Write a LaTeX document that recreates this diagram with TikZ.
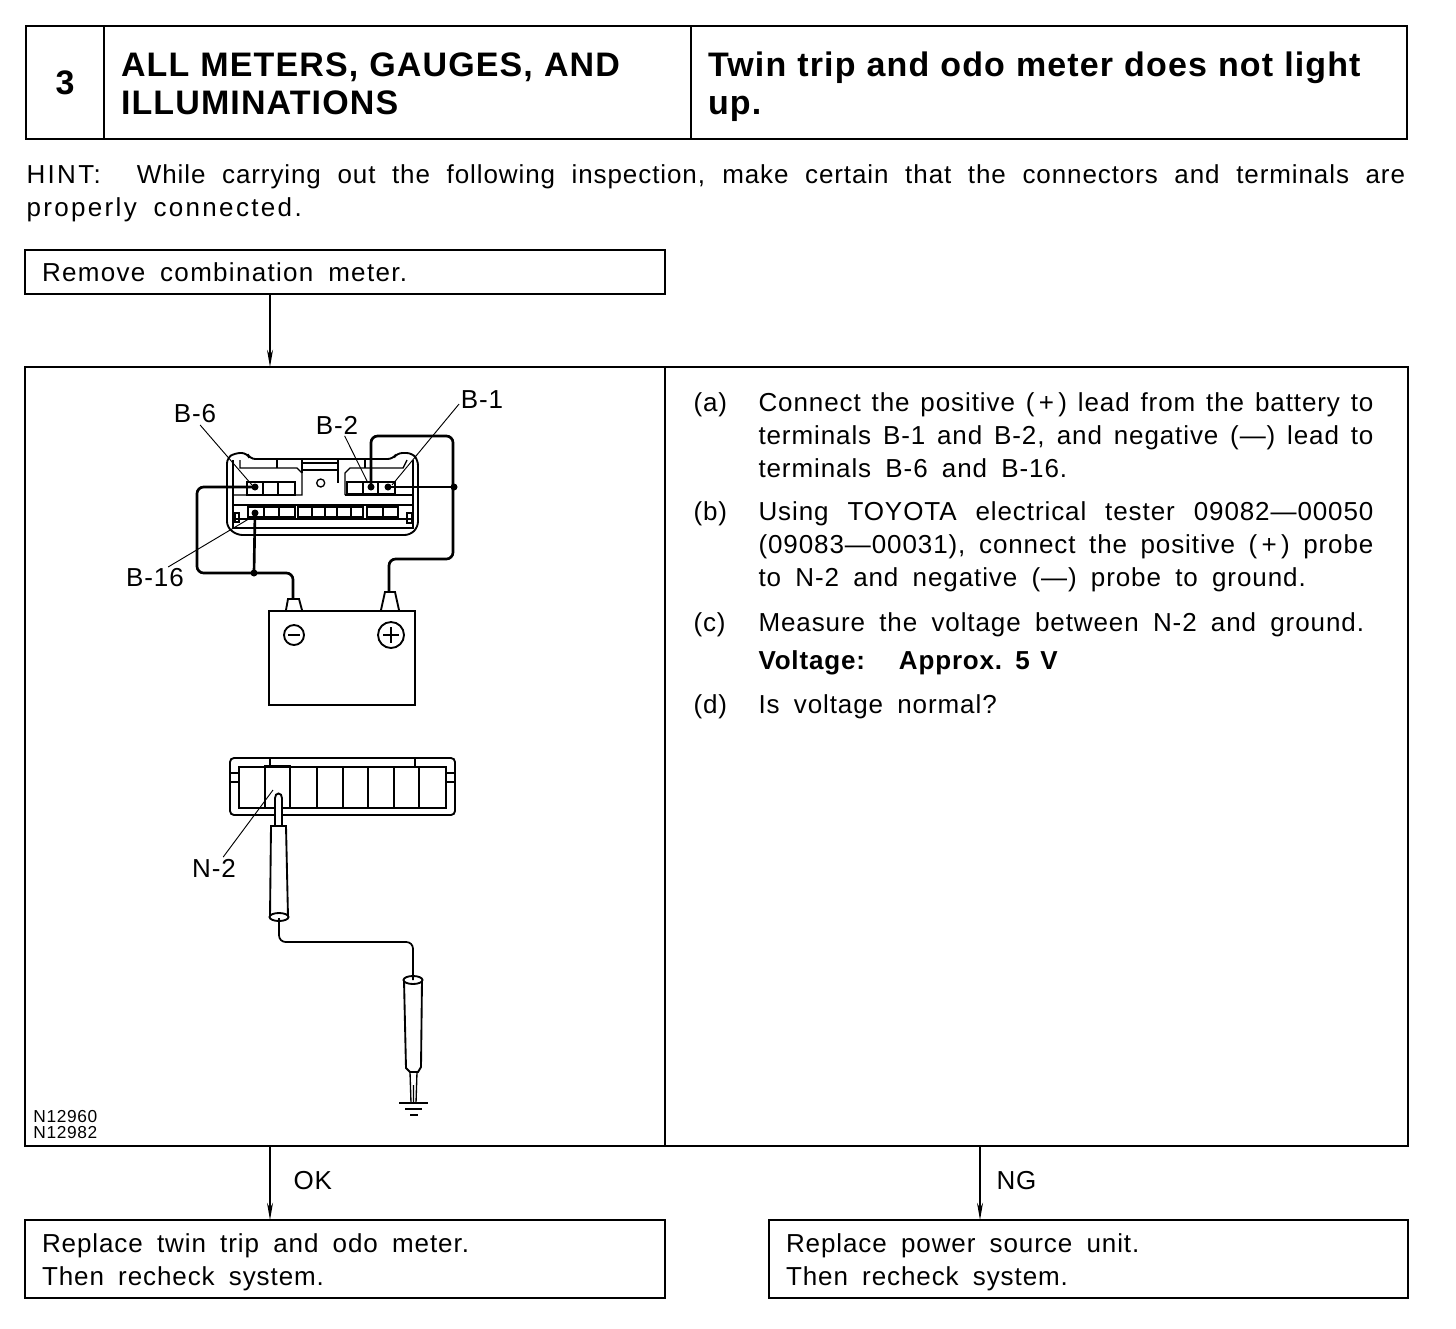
\documentclass[tikz,border=0pt]{standalone}
\usepackage{fontspec}
\setmainfont[LetterSpace=3.5,WordSpace=1.75]{Liberation Sans}
\newfontfamily\titlefont[LetterSpace=3.3,WordSpace=1.05]{Liberation Sans Bold}
\newfontfamily\boldfont[LetterSpace=3.2,WordSpace=1.3]{Liberation Sans Bold}
\newcommand{\firstline}[1]{\rule{0pt}{#1}}
\usetikzlibrary{arrows.meta}

\tikzset{every picture/.style={line width=0.75pt}}
\tikzset{
  flowbox/.style={draw,line width=1.5pt,rectangle,anchor=north west,outer sep=0pt,inner xsep=12.75pt,inner ysep=0pt,align=flush left},
  headbox/.style={flowbox,minimum height=84.75pt,font=\fontsize{25.5}{28.5}\titlefont},
  flowarrow/.style={line width=0.9pt,-{Stealth[length=13pt,width=4.5pt]}},
  bodytext/.style={anchor=north west,inner sep=0pt,font=\fontsize{19.5}{24.75}\selectfont},
  boxtext/.style={flowbox,font=\fontsize{19.5}{24.75}\selectfont},
  listtext/.style={bodytext,text width=461.25pt,align=justify},
  pointlabel/.style={inner sep=1pt,font=\fontsize{19.5}{24.75}\selectfont},
  part/.style={line width=1.4pt},
  thinpart/.style={line width=1pt},
  wire/.style={line width=2pt,rounded corners=5pt},
  leader/.style={line width=0.7pt},
  pindot/.style={fill=black,draw=none}
}

\begin{document}
\begin{tikzpicture}[x=0.75pt,y=0.75pt,yscale=-1,xscale=1]
\useasboundingbox (0,0) rectangle (1456,1328);

% Header
\draw (26,26) node (numcell) [headbox,minimum width=58.5pt,align=center,inner xsep=0pt] {3};
\draw (104,26) node (titlecell) [headbox,text width=414.75pt] {\firstline{27.5pt}ALL METERS, GAUGES, AND\\\strut ILLUMINATIONS};
\draw (691,26) node (faultcell) [headbox,text width=511.5pt] {\firstline{27.5pt}Twin trip and odo meter does not light\\\strut up.};

% Text Node
\draw (26,164) node (hinttext) [bodytext,text width=1034pt,align=justify] {{\addfontfeature{LetterSpace=9}HINT:}\hspace{27pt}While carrying out the following inspection, make certain that the connectors and terminals are\linebreak {\addfontfeature{LetterSpace=9}properly connected.}};

% Boxes
\draw (25,250) node (startbox) [boxtext,text width=454.5pt,minimum height=33pt] {\addfontfeature{LetterSpace=5}Remove combination meter.};
\draw (25,367) node (leftpanel) [flowbox,minimum width=480pt,minimum height=584.25pt] {};
\draw (665,367) node (rightpanel) [flowbox,minimum width=557.25pt,minimum height=584.25pt] {};
\draw (25,1220) node (okbox) [boxtext,text width=454.5pt,minimum height=58.5pt] {\firstline{18.7pt}Replace twin trip and odo meter.\\Then recheck system.};
\draw (769,1220) node (ngbox) [boxtext,text width=453.75pt,minimum height=58.5pt] {\firstline{18.7pt}Replace power source unit.\\Then recheck system.};

% Connection
\coordinate (flowleft) at (270,0);
\coordinate (flowright) at (980,0);
\draw [flowarrow] (startbox.south -| flowleft) -- (leftpanel.north -| flowleft);
\draw [flowarrow] (leftpanel.south -| flowleft) -- (okbox.north -| flowleft);
\draw [flowarrow] (rightpanel.south -| flowright) -- (ngbox.north -| flowright);
\draw (293,1171) node (oklabel) [bodytext] {OK};
\draw (996,1171) node (nglabel) [bodytext] {NG};

% Inspection steps
\draw (693,392) node (itema) [bodytext] {(a)};
\draw (758,392) node (stepa) [listtext] {Connect the positive (\,+\,) lead from the battery to\linebreak terminals B-1 and B-2, and negative (—) lead to\linebreak terminals B-6 and B-16.};
\draw (693,501) node (itemb) [bodytext] {(b)};
\draw (758,501) node (stepb) [listtext] {Using TOYOTA electrical tester 09082—00050\linebreak (09083—00031), connect the positive (\,+\,) probe\linebreak to N-2 and negative (—) probe to ground.};
\draw (693,612) node (itemc) [bodytext] {(c)};
\draw (758,612) node (stepc) [bodytext] {Measure the voltage between N-2 and ground.};
\draw (758,650) node (voltage) [bodytext,font=\fontsize{19.5}{24.75}\boldfont] {Voltage:\hspace{25.5pt}Approx. 5 V};
\draw (693,694) node (itemd) [bodytext] {(d)};
\draw (758,694) node (stepd) [bodytext] {Is voltage normal?};
\draw (33,1110) node (partno) [anchor=north west,inner sep=0pt,align=left,font=\fontsize{13}{12}\selectfont] {N12960\\N12982};

%Shape: meter connector body
\draw [part,rounded corners=4pt] (227,458) -- (227,527) -- (237,535) -- (410,535) -- (418,527) -- (418,460) -- (412,453) -- (397,453) -- (393,459) -- (338,459) -- (302,459) -- (250,459) -- (247,453) -- (235,453) -- cycle;
\draw [thinpart] (233,460) -- (233,528) -- (413,528) -- (413,460);
\draw [thinpart] (240,460) -- (240,468) -- (297,468) -- (302,473) -- (302,495) -- (233,495);
\draw [thinpart] (345,495) -- (345,473) -- (350,468) -- (403,468) -- (407,460);
\draw [thinpart] (345,495) -- (413,495);
\draw [thinpart] (302,459) -- (302,473);
\draw [thinpart] (338,459) -- (338,483);
\draw [thinpart] (302,463) -- (338,463);
\draw [thinpart] (302,470) -- (338,470);
\draw [thinpart] (277,459) -- (277,468);
\draw [thinpart] (365,459) -- (365,468);
\draw [thinpart] (233,505) -- (413,505);
\draw [thinpart] (233,519) -- (413,519);
\draw [thinpart] (235,513) rectangle (239,522);
\draw [thinpart] (407,513) rectangle (412,523);
\draw [thinpart] (320.7,483) circle [radius=4];
%Upper terminal rows
\draw [thinpart] (247,482) rectangle (295,495);
\draw [thinpart] (347,482) rectangle (395,494);
\foreach \cellx in {263,278} \draw [thinpart] (\cellx,482) -- (\cellx,495);
\foreach \cellx in {363,378} \draw [thinpart] (\cellx,482) -- (\cellx,494);
\draw [part] (247,482) rectangle (263,495);
%Lower terminal row
\draw [thinpart] (248,507) rectangle (295,517);
\draw [thinpart] (298,507) rectangle (363,517);
\draw [thinpart] (367,507) rectangle (398,517);
\foreach \cellx in {264,279,312,325,337,351,383} \draw [thinpart] (\cellx,507) -- (\cellx,517);
\draw [part] (248,507) rectangle (264,517);

%Pins and wires
\coordinate (pinBsix) at (255,487);
\coordinate (pinBtwo) at (371,487);
\coordinate (pinBone) at (388,487);
\coordinate (pinBsixteen) at (255,513);
\coordinate (wirejoin) at (254,573);
\coordinate (wirerun) at (454,487);
\foreach \pin in {pinBsix,pinBtwo,pinBone,pinBsixteen,wirejoin,wirerun} \path [pindot] (\pin) circle [radius=3.5];

%Shape: battery
\draw [part] (269,611) rectangle (415,705);
\draw [part] (286,610) -- (288,599) -- (299,599) -- (302,610);
\draw [part] (381,610) -- (385,592) -- (395,592) -- (399,610);
\coordinate (termneg) at (293,599);
\coordinate (termpos) at (389,592);
\draw [part] (294,635) circle [radius=10];
\draw [part] (288,635) -- (300,635);
\draw [part] (391,635) circle [radius=13];
\draw [part] (383,635) -- (399,635) (391,627) -- (391,643);

\draw [wire] (pinBsix) -| (197,573) -| (termneg);
\draw [wire] (pinBsixteen) -- (wirejoin);
\draw [wire] (pinBone) -- (wirerun);
\draw [wire] (pinBtwo) |- (453,436) |- (389,559) -- (termpos);

% Text Node
\draw (195,414) node (labelBsix) [pointlabel] {B-6};
\draw (337,425) node (labelBtwo) [pointlabel] {B-2};
\draw (482,400) node (labelBone) [pointlabel] {B-1};
\draw (155,578) node (labelBsixteen) [pointlabel] {B-16};
\draw (214,868) node (labelNtwo) [pointlabel] {N-2};

% Connection
\coordinate (tipBsix) at (252,485);
\coordinate (tipBtwo) at (368,483);
\coordinate (tipBone) at (392,485);
\coordinate (tipBsixteen) at (252,517);
\coordinate (tipNtwo) at (273,790);
\draw [leader] (labelBsix.-65) -- (tipBsix);
\draw [leader] (labelBtwo.-55) -- (tipBtwo);
\draw [leader] (labelBone.-170) -- (tipBone);
\draw [leader] (labelBsixteen.40) -- (tipBsixteen);
\draw [leader] (labelNtwo.50) -- (tipNtwo);

%Shape: panel connector
\draw [part,rounded corners=3pt] (230,758) rectangle (455,815);
\draw [part] (239,767) rectangle (446,808);
\draw [thinpart] (270,758) -- (270,766) (415,758) -- (415,767);
\foreach \notchy in {773,782} \draw [thinpart] (230,\notchy) -- (239,\notchy) (446,\notchy) -- (455,\notchy);
\foreach \cellx in {317,343,368,394,419} \draw [thinpart] (\cellx,767) -- (\cellx,808);
\draw [part] (265,766) rectangle (290,808);

%Shape: positive probe
\draw [part,fill=white] (275,826) -- (275,798) .. controls (275,792) and (282,792) .. (282,798) -- (282,826);
\draw [part,fill=white] (271,826) -- (286,826) -- (288,917) -- (270,917) -- cycle;
\draw [part,fill=white] (279,917) ellipse [x radius=9.5,y radius=4];
%Shape: negative probe
\draw [part,fill=white] (404,980) -- (406,1068) -- (410,1072) -- (418,1072) -- (421,1067) -- (422,980);
\draw [part,fill=white] (413,980) ellipse [x radius=9.5,y radius=4];
\draw [thinpart] (410,1072) -- (411,1103) (417,1072) -- (416,1103) (413.5,1085) -- (413.5,1103);
\coordinate (probepos) at (279,918);
\coordinate (probeneg) at (413,980);
\draw [line width=1.3pt,rounded corners=5pt] (probepos) |- (413,942) -- (probeneg);
%Shape: ground
\draw [thinpart] (399,1103) -- (428,1103) (405,1109) -- (422,1109) (410,1115) -- (418,1115);

\end{tikzpicture}
\end{document}
